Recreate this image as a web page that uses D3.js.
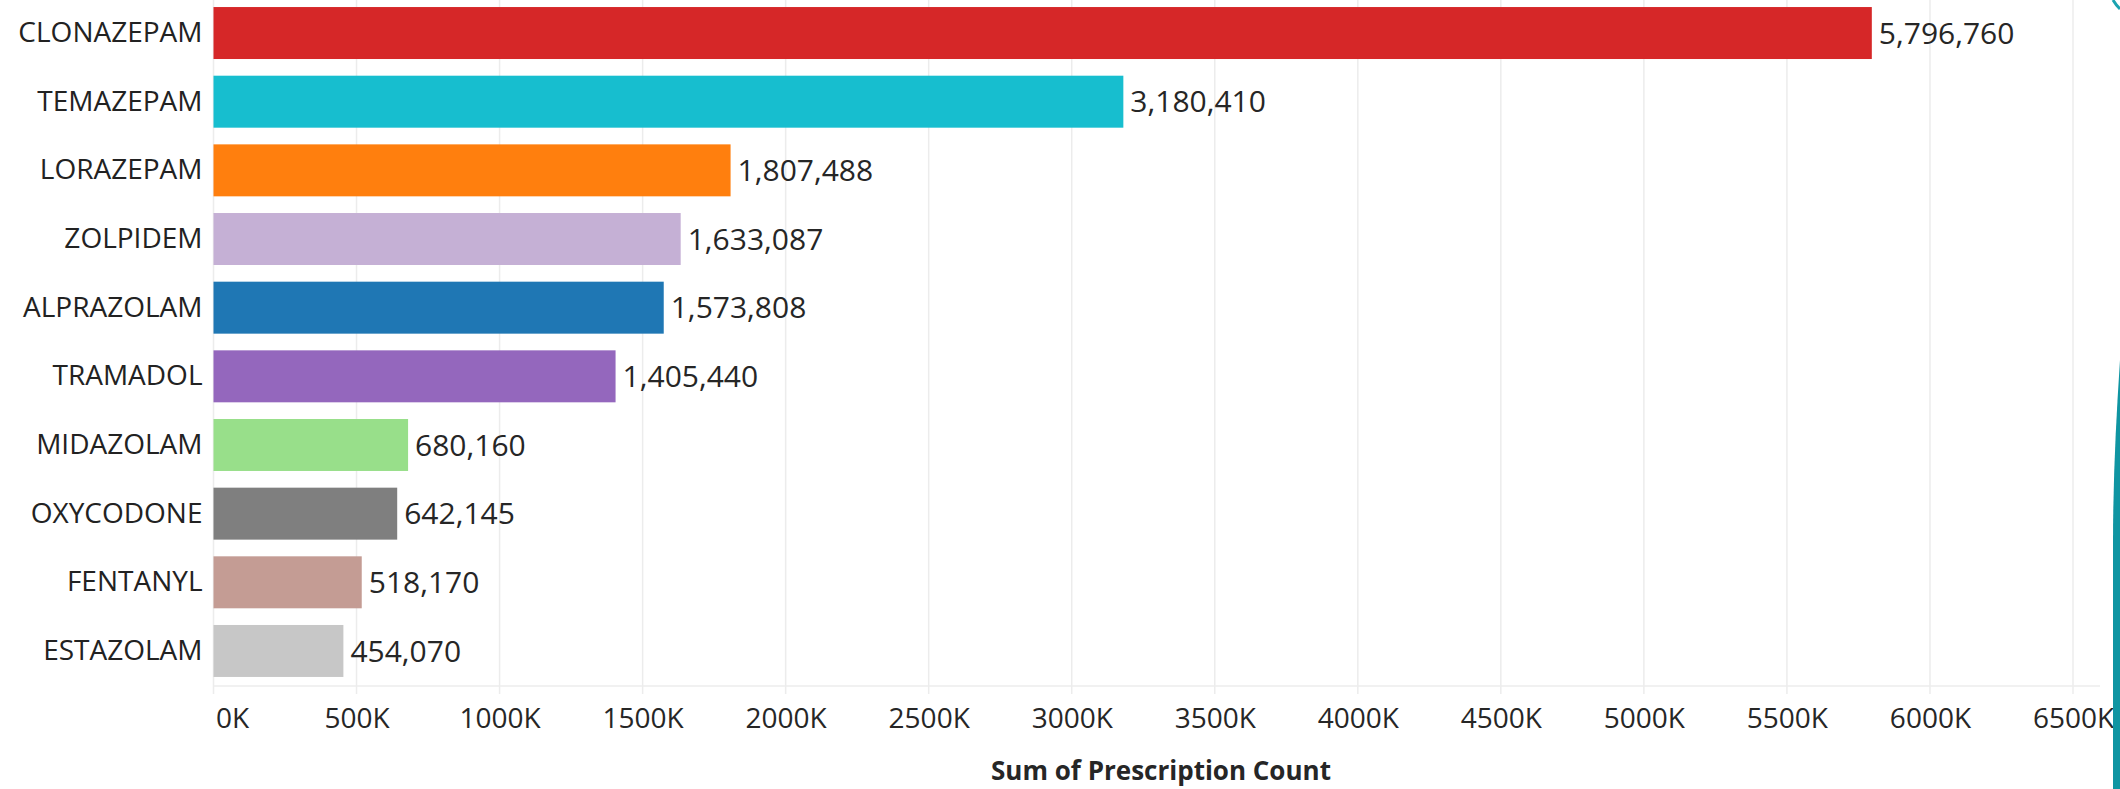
<!DOCTYPE html>
<html>
<head>
<meta charset="utf-8">
<script src="https://cdn.jsdelivr.net/npm/d3@7"></script>
<style>
  html, body { margin: 0; padding: 0; background: #ffffff; }
  svg { display: block; }
  text { font-family: "Open Sans", "Noto Sans", sans-serif; }
</style>
</head>
<body>
<svg id="chart" width="2120" height="789"></svg>
<script>
const categories = ["CLONAZEPAM", "TEMAZEPAM", "LORAZEPAM", "ZOLPIDEM", "ALPRAZOLAM",
                    "TRAMADOL", "MIDAZOLAM", "OXYCODONE", "FENTANYL", "ESTAZOLAM"];
const values = [5796760, 3180410, 1807488, 1633087, 1573808, 1405440, 680160, 642145, 518170, 454070];
const colors = ["#d62728", "#17becf", "#ff7f0e", "#c5b0d5", "#1f77b4",
                "#9467bd", "#98df8a", "#7f7f7f", "#c49c94", "#c7c7c7"];
const tickValues = [0, 500000, 1000000, 1500000, 2000000, 2500000, 3000000, 3500000,
                    4000000, 4500000, 5000000, 5500000, 6000000, 6500000];
const axisTitle = "Sum of Prescription Count";

const svg = d3.select("#chart");

const x = d3.scaleLinear().domain([0, 6500000]).range([213.5, 2073]);
const y = d3.scaleBand().domain(categories).range([-1.3, 685.3])
  .paddingInner(0.243).paddingOuter(0.1215);

// gridlines
svg.append("g").selectAll("line").data(tickValues).join("line")
  .attr("x1", d => x(d)).attr("x2", d => x(d))
  .attr("y1", 0).attr("y2", 694)
  .attr("stroke", "#ececec").attr("stroke-width", 1.5);

// baseline
svg.append("line")
  .attr("x1", x(0)).attr("x2", 2100)
  .attr("y1", 686).attr("y2", 686)
  .attr("stroke", "#ececec").attr("stroke-width", 1.5);

// bars
svg.append("g").selectAll("rect").data(categories).join("rect")
  .attr("x", x(0))
  .attr("y", d => y(d))
  .attr("width", (d, i) => x(values[i]) - x(0))
  .attr("height", y.bandwidth())
  .attr("fill", (d, i) => colors[i]);

// value labels
const fmt = d3.format(",");
svg.append("g").selectAll("text").data(categories).join("text")
  .attr("x", (d, i) => x(values[i]) + 7)
  .attr("y", d => y(d) + y.bandwidth() / 2)
  .attr("dy", "0.36em")
  .attr("font-size", 30)
  .attr("fill", "#262626")
  .text((d, i) => fmt(values[i]));

// category axis
const yAxis = svg.append("g")
  .attr("transform", `translate(${x(0)},0)`)
  .call(d3.axisLeft(y).tickSize(0).tickPadding(11));
yAxis.select(".domain").remove();
yAxis.selectAll("text")
  .attr("font-size", 28)
  .attr("fill", "#222222")
  .style("font-family", '"Open Sans", "Noto Sans", sans-serif');

// value axis
const xAxis = svg.append("g")
  .attr("transform", "translate(0,686)")
  .call(d3.axisBottom(x).tickValues(tickValues).tickSize(0).tickPadding(22)
    .tickFormat(d => (d / 1000) + "K"));
xAxis.select(".domain").remove();
xAxis.selectAll("text")
  .attr("font-size", 28)
  .attr("fill", "#262626")
  .style("font-family", '"Open Sans", "Noto Sans", sans-serif')
  .attr("text-anchor", (d, i) => i === 0 ? "start" : "middle")
  .attr("dx", (d, i) => i === 0 ? 2 : 0);

// axis title
svg.append("text")
  .attr("x", 1161).attr("y", 780)
  .attr("text-anchor", "middle")
  .attr("font-size", 26)
  .attr("font-weight", "bold")
  .attr("fill", "#262626")
  .text(axisTitle);

// decorative teal edge on the right
svg.append("path")
  .attr("d", "M2120,360 C2116,420 2113,480 2113,543 L2113,789 L2120,789 Z")
  .attr("fill", "#0f95a2");
svg.append("path")
  .attr("d", "M2113,0 Q2116,5 2120,9")
  .attr("fill", "none").attr("stroke", "#1aa3b0").attr("stroke-width", 3);
</script>
</body>
</html>
